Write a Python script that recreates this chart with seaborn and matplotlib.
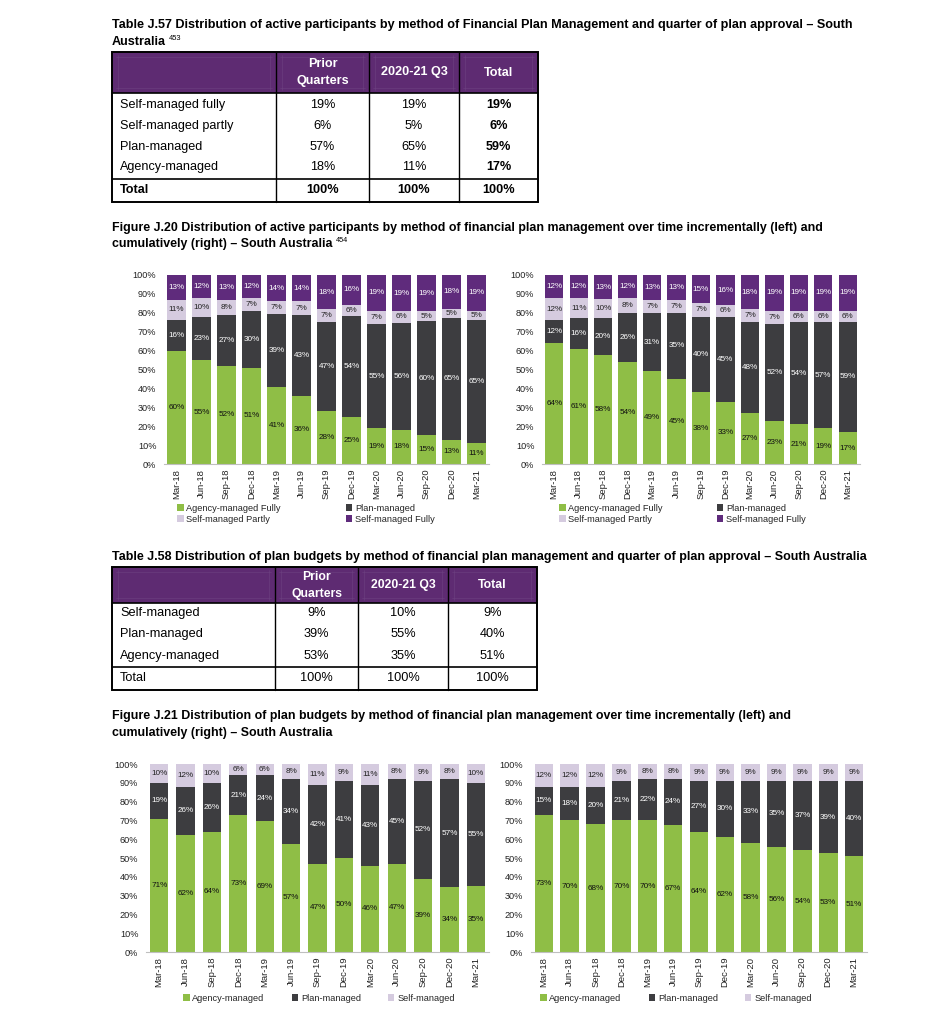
import numpy as np
import pandas as pd
import matplotlib
matplotlib.use("Agg")
import matplotlib.pyplot as plt
import seaborn as sns
from matplotlib.patches import Rectangle, Patch
from matplotlib import font_manager

# ---------------- DATA ----------------
quarters = ["Mar-18", "Jun-18", "Sep-18", "Dec-18", "Mar-19", "Jun-19", "Sep-19",
            "Dec-19", "Mar-20", "Jun-20", "Sep-20", "Dec-20", "Mar-21"]

# Table J.57
t57_rows = ["Self-managed fully", "Self-managed partly", "Plan-managed", "Agency-managed", "Total"]
t57_prior = [19, 6, 57, 18, 100]
t57_q3 = [19, 5, 65, 11, 100]
t57_total = [19, 6, 59, 17, 100]

# Figure J.20 (participants) - left: incremental, right: cumulative
part_names = ["Agency-managed Fully", "Plan-managed", "Self-managed Partly", "Self-managed Fully"]
inc_agency = [60, 55, 52, 51, 41, 36, 28, 25, 19, 18, 15, 13, 11]
inc_plan = [16, 23, 27, 30, 39, 43, 47, 54, 55, 56, 60, 65, 65]
inc_partly = [11, 10, 8, 7, 7, 7, 7, 6, 7, 6, 5, 5, 5]
inc_fully = [13, 12, 13, 12, 14, 14, 18, 16, 19, 19, 19, 18, 19]

cum_agency = [64, 61, 58, 54, 49, 45, 38, 33, 27, 23, 21, 19, 17]
cum_plan = [12, 16, 20, 26, 31, 35, 40, 45, 48, 52, 54, 57, 59]
cum_partly = [12, 11, 10, 8, 7, 7, 7, 6, 7, 7, 6, 6, 6]
cum_fully = [12, 12, 13, 12, 13, 13, 15, 16, 18, 19, 19, 19, 19]

# Table J.58
t58_rows = ["Self-managed", "Plan-managed", "Agency-managed", "Total"]
t58_prior = [9, 39, 53, 100]
t58_q3 = [10, 55, 35, 100]
t58_total = [9, 40, 51, 100]

# Figure J.21 (plan budgets) - left: incremental, right: cumulative
budget_names = ["Agency-managed", "Plan-managed", "Self-managed"]
binc_agency = [71, 62, 64, 73, 69, 57, 47, 50, 46, 47, 39, 34, 35]
binc_plan = [19, 26, 26, 21, 24, 34, 42, 41, 43, 45, 52, 57, 55]
binc_self = [10, 12, 10, 6, 6, 8, 11, 9, 11, 8, 9, 8, 10]

bcum_agency = [73, 70, 68, 70, 70, 67, 64, 62, 58, 56, 54, 53, 51]
bcum_plan = [15, 18, 20, 21, 22, 24, 27, 30, 33, 35, 37, 39, 40]
bcum_self = [12, 12, 12, 9, 8, 8, 9, 9, 9, 9, 9, 9, 9]

# ---------------- STYLE ----------------
GREEN = "#8fbe46"
DARK = "#3d3d40"
LAVENDER = "#d5cbdf"
PURPLE = "#5f2b7c"
HEADER = "#5e2b72"
GUIDE = "#6e4282"

sns.set_theme(style="white")
plt.rcParams["font.family"] = ["Liberation Sans", "DejaVu Sans"]

names_avail = {f.name for f in font_manager.fontManager.ttflist}
if "Liberation Sans Narrow" in names_avail:
    NARROW = ["Liberation Sans Narrow", "Liberation Sans", "DejaVu Sans"]
    nscale = 1.0
else:
    NARROW = ["Liberation Sans", "DejaVu Sans"]
    nscale = 0.84
REG = ["Liberation Sans", "DejaVu Sans"]

W, H = 930, 1024
fig = plt.figure(figsize=(W / 100, H / 100), dpi=100)
fig.patch.set_facecolor("white")

ax0 = fig.add_axes([0, 0, 1, 1])
ax0.set_xlim(0, W)
ax0.set_ylim(H, 0)
ax0.axis("off")
renderer = fig.canvas.get_renderer()


def title_lines(lines, x, y0, dy, family, size, sup=None):
    last = None
    for i, ln in enumerate(lines):
        last = ax0.text(x, y0 + i * dy, ln, ha="left", va="center", fontsize=size,
                        fontweight="bold", family=family, color="black")
    if sup:
        bb = last.get_window_extent(renderer=renderer)
        xe = bb.x1 + 3
        ax0.text(xe, y0 + (len(lines) - 1) * dy - 4, sup, ha="left", va="center",
                 fontsize=size * 0.6, family=family, color="black")


def draw_table(top, hdr_bot, bottom, cols, row_y, total_line, hdr_y, rows, vals,
               family, size, bold_total_col, bold_total_row, hdr_size):
    left, right = cols[0], cols[-1]
    ax0.add_patch(Rectangle((left, top), right - left, hdr_bot - top, facecolor=HEADER,
                            edgecolor="none", zorder=1))
    # faint inner header guides
    for c0, c1 in zip(cols[:-1], cols[1:]):
        ax0.plot([c0 + 4, c1 - 4], [top + 5, top + 5], color=GUIDE, lw=0.4, zorder=2)
        ax0.plot([c0 + 4, c1 - 4], [hdr_bot - 5, hdr_bot - 5], color=GUIDE, lw=0.4, zorder=2)
        ax0.plot([c0 + 6, c0 + 6], [top + 3, hdr_bot - 3], color=GUIDE, lw=0.4, zorder=2)
        ax0.plot([c1 - 6, c1 - 6], [top + 3, hdr_bot - 3], color=GUIDE, lw=0.4, zorder=2)
    ax0.add_patch(Rectangle((left, top), right - left, bottom - top, facecolor="none",
                            edgecolor="black", lw=1.4, zorder=3))
    for c in cols[1:-1]:
        ax0.plot([c, c], [top, bottom], color="black", lw=1.0, zorder=3)
    ax0.plot([left, right], [hdr_bot, hdr_bot], color="black", lw=1.2, zorder=3)
    ax0.plot([left, right], [total_line, total_line], color="black", lw=1.2, zorder=3)
    centers = [(a + b) / 2 for a, b in zip(cols[1:-1], cols[2:])]
    # header
    ax0.text(centers[0], hdr_y - 8.5, "Prior", ha="center", va="center", color="white",
             fontweight="bold", family=family, fontsize=hdr_size)
    ax0.text(centers[0], hdr_y + 8.5, "Quarters", ha="center", va="center", color="white",
             fontweight="bold", family=family, fontsize=hdr_size)
    ax0.text(centers[1], hdr_y, "2020-21 Q3", ha="center", va="center", color="white",
             fontweight="bold", family=family, fontsize=hdr_size)
    ax0.text(centers[2], hdr_y, "Total", ha="center", va="center", color="white",
             fontweight="bold", family=family, fontsize=hdr_size)
    n = len(rows)
    for i, (name, y) in enumerate(zip(rows, row_y)):
        is_total = i == n - 1
        w_row = "bold" if (is_total and bold_total_row) else "normal"
        ax0.text(left + 8, y, name, ha="left", va="center", family=family, fontsize=size,
                 fontweight=w_row, color="black")
        for j, col_vals in enumerate(vals):
            w = w_row
            if j == 2 and bold_total_col:
                w = "bold"
            ax0.text(centers[j], y, f"{col_vals[i]}%", ha="center", va="center",
                     family=family, fontsize=size, fontweight=w, color="black")


def px_rect(left, top, width, height):
    return [left / W, 1 - (top + height) / H, width / W, height / H]


def stacked_chart(rect, series, colors, label_colors, bar_w):
    ax = fig.add_axes(rect)
    arr = np.array(series, dtype=float)
    totals = arr.sum(axis=0)
    cum = np.cumsum(arr, axis=0) / totals * 100
    for k in range(len(series) - 1, -1, -1):
        df = pd.DataFrame({"quarter": quarters, "value": cum[k]})
        sns.barplot(data=df, x="quarter", y="value", order=quarters, color=colors[k],
                    saturation=1, width=bar_w, errorbar=None, linewidth=0, ax=ax)
    for k in range(len(series)):
        lo = cum[k - 1] if k > 0 else np.zeros(len(quarters))
        for i in range(len(quarters)):
            ax.text(i, (lo[i] + cum[k][i]) / 2, f"{series[k][i]}%", ha="center",
                    va="center", fontsize=5.9, color=label_colors[k])
    ax.set_xlim(-0.5, len(quarters) - 0.5)
    ax.set_ylim(0, 100)
    ax.set_yticks(np.arange(0, 101, 10))
    ax.set_yticklabels([f"{t}%" for t in range(0, 101, 10)])
    ax.set_xlabel("")
    ax.set_ylabel("")
    ax.tick_params(axis="y", length=0, pad=5.5, labelsize=6.6, colors="#222222")
    ax.tick_params(axis="x", which="major", length=0, pad=3.5, labelsize=6.8,
                   colors="#222222", labelrotation=90)
    ax.set_xticks(np.arange(-0.5, len(quarters), 1), minor=True)
    ax.tick_params(axis="x", which="minor", length=3, width=0.6, color="#bfbfbf",
                   direction="out")
    for s in ["top", "right", "left"]:
        ax.spines[s].set_visible(False)
    ax.spines["bottom"].set_color("#bfbfbf")
    ax.spines["bottom"].set_linewidth(0.8)
    ax.set_facecolor("none")
    return ax


def add_legend(ax, names, colors, order, ncol, x_px, y_px, colspace):
    handles = [Patch(facecolor=colors[k], edgecolor="none", label=names[k]) for k in order]
    ax.legend(handles=handles, ncol=ncol, loc="upper left",
              bbox_to_anchor=(x_px / W, 1 - y_px / H), bbox_transform=fig.transFigure,
              frameon=False, handlelength=0.7, handleheight=0.7, handletextpad=0.3,
              columnspacing=colspace, labelspacing=0.2, borderpad=0, borderaxespad=0,
              fontsize=6.7)


# ---------------- TITLES & TABLES ----------------
title_lines(["Table J.57 Distribution of active participants by method of Financial Plan "
             "Management and quarter of plan approval \u2013 South", "Australia"],
            112, 25, 17, NARROW, 10.8 * nscale, sup="453")

draw_table(52, 93, 202, [112, 276, 369, 459, 538], [105, 126, 147, 167, 190], 179, 72.5,
           t57_rows, [t57_prior, t57_q3, t57_total], NARROW, 10.8 * nscale,
           True, True, 10.8 * nscale)

title_lines(["Figure J.20 Distribution of active participants by method of financial plan "
             "management over time incrementally (left) and",
             "cumulatively (right) \u2013 South Australia"],
            112, 228, 16, NARROW, 10.6 * nscale, sup="454")

title_lines(["Table J.58 Distribution of plan budgets by method of financial plan management "
             "and quarter of plan approval \u2013 South Australia"],
            112, 557, 17, REG, 9.0)

draw_table(567, 603, 690, [112, 275, 358, 448, 537], [613, 634, 656, 678], 667, 585,
           t58_rows, [t58_prior, t58_q3, t58_total], REG, 9.2,
           False, False, 8.8)

title_lines(["Figure J.21 Distribution of plan budgets by method of financial plan management "
             "over time incrementally (left) and",
             "cumulatively (right) \u2013 South Australia"],
            112, 716, 17, NARROW, 10.6 * nscale)

# ---------------- CHARTS ----------------
pcolors = [GREEN, DARK, LAVENDER, PURPLE]
plabels = ["#111111", "white", "#222222", "white"]
bcolors = [GREEN, DARK, LAVENDER]
blabels = ["#111111", "white", "#222222"]

ax1 = stacked_chart(px_rect(164, 275, 325, 189),
                    [inc_agency, inc_plan, inc_partly, inc_fully], pcolors, plabels, 0.75)
add_legend(ax1, part_names, pcolors, [0, 2, 1, 3], 2, 177, 504, 7.0)

ax2 = stacked_chart(px_rect(542, 275, 318, 189),
                    [cum_agency, cum_plan, cum_partly, cum_fully], pcolors, plabels, 0.75)
add_legend(ax2, part_names, pcolors, [0, 2, 1, 3], 2, 559, 504, 5.8)

ax3 = stacked_chart(px_rect(146, 764, 343, 188),
                    [binc_agency, binc_plan, binc_self], bcolors, blabels, 0.69)
add_legend(ax3, budget_names, bcolors, [0, 1, 2], 3, 183, 994, 2.9)

ax4 = stacked_chart(px_rect(531, 764, 336, 188),
                    [bcum_agency, bcum_plan, bcum_self], bcolors, blabels, 0.72)
add_legend(ax4, budget_names, bcolors, [0, 1, 2], 3, 540, 994, 2.9)

fig.savefig("out.png", dpi=100, facecolor="white")
